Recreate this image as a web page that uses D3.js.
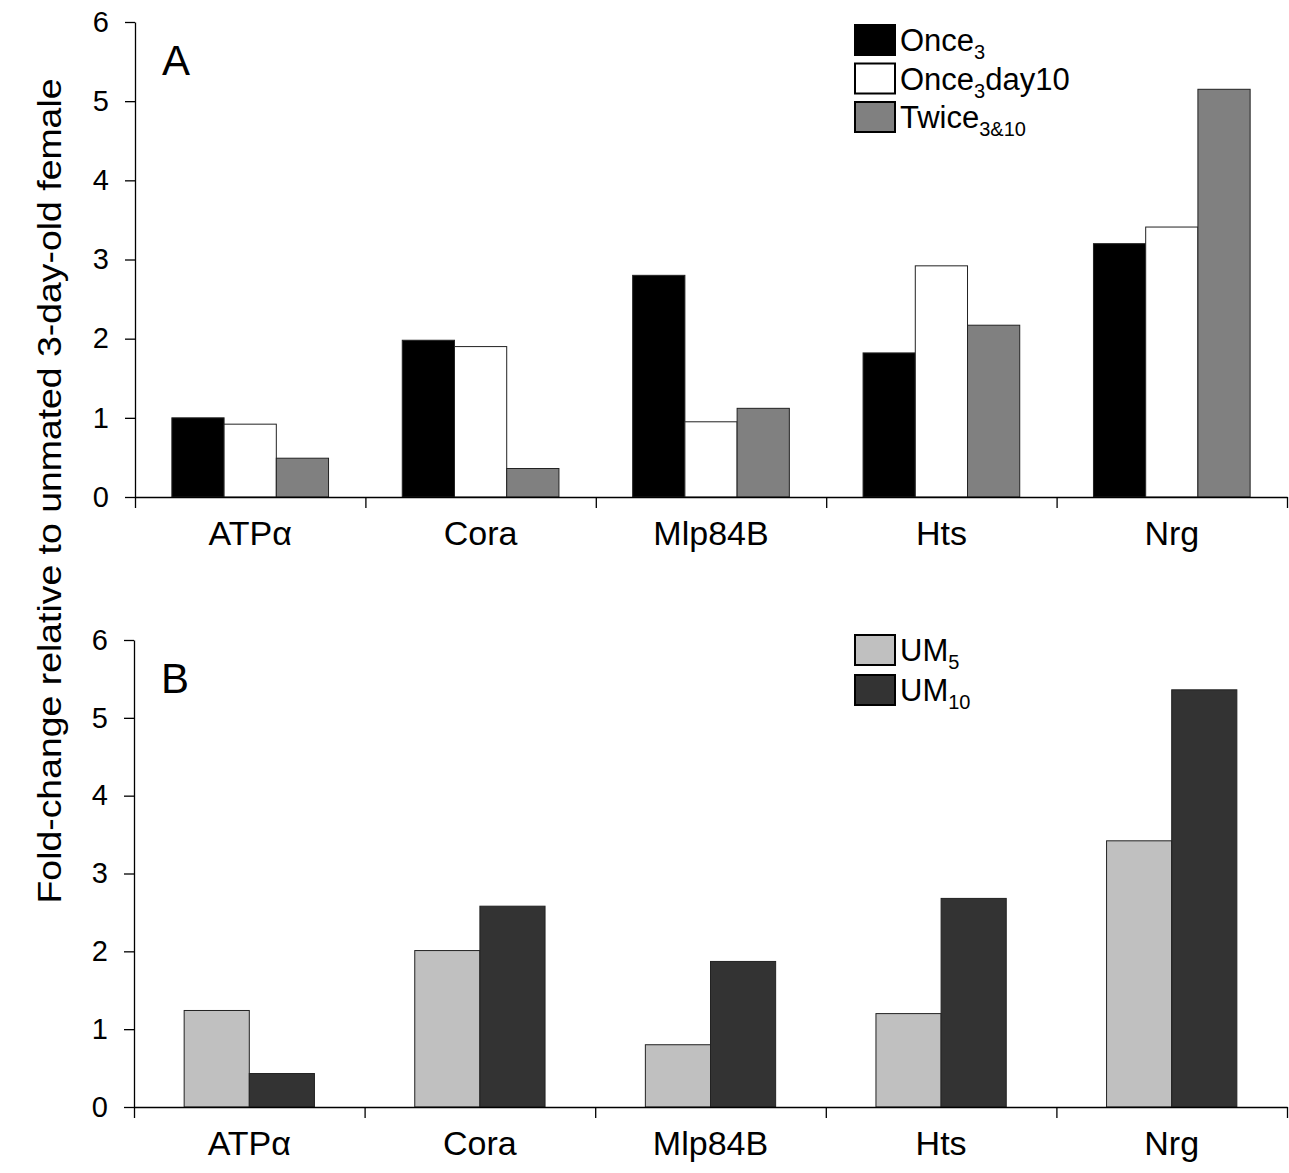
<!DOCTYPE html>
<html>
<head>
<meta charset="utf-8">
<script src="https://cdn.jsdelivr.net/npm/d3@7"></script>
<style>
    body { margin: 0; background: #fff; }
    svg { display: block; font-family: "Liberation Sans", Arial, sans-serif; }
    .axis path, .axis line { stroke: #000; stroke-width: 1.3; }
    .axis text { fill: #000; }
</style>
</head>
<body>
<div id="app"></div>
<script>
// genes along the x axis, both panels
var genes = ["ATPα", "Cora", "Mlp84B", "Hts", "Nrg"];

// panel A series
var once3 = [1.00, 1.98, 2.80, 1.82, 3.20];
var once3day10 = [0.92, 1.90, 0.95, 2.92, 3.41];
var twice310 = [0.49, 0.36, 1.12, 2.17, 5.15];

// panel B series
var um5 = [1.24, 2.01, 0.80, 1.20, 3.42];
var um10 = [0.43, 2.58, 1.87, 2.68, 5.36];

var yTicks = [0, 1, 2, 3, 4, 5, 6];

var svg = d3.select("#app")
    .append("svg")
    .attr("width", 1289)
    .attr("height", 1173);

function drawPanel(opts) {
    var g = svg.append("g");

    var x = d3.scaleBand()
        .domain(genes)
        .range([opts.left, opts.right])
        .padding(0);

    // boundary ticks between categories
    var xEdges = d3.scaleLinear()
        .domain([0, genes.length])
        .range([opts.left, opts.right]);

    var y = d3.scaleLinear()
        .domain([0, 6])
        .range([opts.bottom, opts.top]);

    // inner scale for the series within one gene
    var xs = d3.scaleBand()
        .domain(opts.series.map(function (s) { return s.name; }))
        .range([x.bandwidth() * opts.groupPad, x.bandwidth() * (1 - opts.groupPad)])
        .padding(0);

    // bars
    opts.series.forEach(function (s) {
        g.selectAll(null)
            .data(s.values)
            .enter()
            .append("rect")
            .attr("x", function (d, i) { return x(genes[i]) + xs(s.name); })
            .attr("y", function (d) { return y(d); })
            .attr("width", xs.bandwidth())
            .attr("height", function (d) { return y(0) - y(d); })
            .attr("fill", s.color)
            .attr("stroke", "#222")
            .attr("stroke-width", 1);
    });

    // y axis
    var yAxis = d3.axisLeft(y)
        .tickValues(yTicks)
        .tickSize(10)
        .tickSizeOuter(0)
        .tickPadding(16)
        .tickFormat(d3.format("d"));

    g.append("g")
        .attr("class", "axis")
        .attr("transform", "translate(" + opts.left + ",0)")
        .call(yAxis)
        .selectAll("text")
        .attr("font-size", 29)
        .attr("font-family", "Liberation Sans, Arial, sans-serif");

    // x axis (ticks at category edges, no labels)
    var xAxis = d3.axisBottom(xEdges)
        .tickValues(d3.range(0, genes.length + 1))
        .tickSize(11)
        .tickSizeOuter(0)
        .tickFormat("");

    g.append("g")
        .attr("class", "axis")
        .attr("transform", "translate(0," + opts.bottom + ")")
        .call(xAxis);

    // gene labels
    g.selectAll(".gene-label")
        .data(genes)
        .enter()
        .append("text")
        .attr("class", "gene-label")
        .attr("x", function (d) { return x(d) + x.bandwidth() / 2; })
        .attr("y", opts.bottom + 48)
        .attr("text-anchor", "middle")
        .attr("font-size", 34)
        .text(function (d) { return d; });

    // panel letter
    g.append("text")
        .attr("x", opts.left + 27)
        .attr("y", opts.top + 53)
        .attr("font-size", 42)
        .text(opts.letter);

    // legend
    var leg = g.append("g")
        .attr("transform", "translate(" + opts.legX + "," + opts.legY + ")");

    opts.series.forEach(function (s, i) {
        var row = leg.append("g")
            .attr("transform", "translate(0," + (i * opts.legStep) + ")");
        row.append("rect")
            .attr("x", 0)
            .attr("y", 0)
            .attr("width", 40)
            .attr("height", 30)
            .attr("fill", s.color)
            .attr("stroke", "#000")
            .attr("stroke-width", 2);
        var t = row.append("text")
            .attr("x", 45)
            .attr("y", 26)
            .attr("font-size", 31);
        s.label.forEach(function (part) {
            var ts = t.append("tspan").text(part.text);
            if (part.sub) {
                ts.attr("font-size", 20).attr("dy", 8);
            } else if (part.after) {
                ts.attr("dy", -8);
            }
        });
    });
}

drawPanel({
    letter: "A",
    left: 135, right: 1287, top: 22, bottom: 497,
    groupPad: 0.16,
    legX: 855, legY: 25, legStep: 38.5,
    series: [
        { name: "once3", values: once3, color: "#000000",
          label: [{ text: "Once" }, { text: "3", sub: true }] },
        { name: "once3day10", values: once3day10, color: "#ffffff",
          label: [{ text: "Once" }, { text: "3", sub: true }, { text: "day10", after: true }] },
        { name: "twice", values: twice310, color: "#808080",
          label: [{ text: "Twice" }, { text: "3&10", sub: true }] }
    ]
});

drawPanel({
    letter: "B",
    left: 134, right: 1287, top: 640, bottom: 1107,
    groupPad: 0.2175,
    legX: 855, legY: 635, legStep: 40,
    series: [
        { name: "um5", values: um5, color: "#c0c0c0",
          label: [{ text: "UM" }, { text: "5", sub: true }] },
        { name: "um10", values: um10, color: "#333333",
          label: [{ text: "UM" }, { text: "10", sub: true }] }
    ]
});

// shared y title
svg.append("text")
    .attr("transform", "translate(61,491) rotate(-90)")
    .attr("text-anchor", "middle")
    .attr("font-size", 34)
    .attr("textLength", 825)
    .attr("lengthAdjust", "spacingAndGlyphs")
    .text("Fold-change relative to unmated 3-day-old female");
</script>
</body>
</html>
